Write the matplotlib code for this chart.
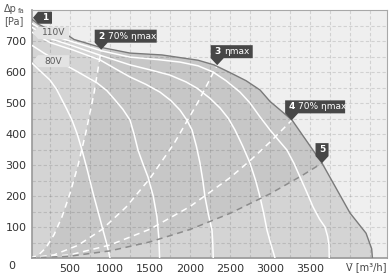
import matplotlib
matplotlib.use("Agg")
import matplotlib.pyplot as plt
import numpy as np
from matplotlib.patches import Polygon
from matplotlib.transforms import IdentityTransform

# Kennlinien (V in m3/h, p in Pa)
v_110 = [0, 100, 250, 475, 550, 875, 1250, 1650, 2100, 2300, 2500, 2700, 2875, 3000, 3275, 3650, 4000, 4200, 4270, 4280]
p_110 = [775, 755, 735, 718, 705, 680, 661, 655, 638, 623, 598, 572, 542, 505, 445, 306, 145, 80, 30, 0]

v_e = [0, 250, 537, 900, 1250, 1600, 1875, 2100, 2287, 2450, 2625, 2750, 2875, 3000, 3100, 3212,
       3300, 3375, 3460, 3537, 3620, 3687, 3720, 3737, 3740]
p_e = [761, 720, 697, 668, 648, 640, 632, 620, 600, 572, 535, 500, 455, 413, 382, 348,
       305, 261, 212, 165, 125, 100, 70, 42, 0]

v_d = [0, 250, 537, 900, 1250, 1500, 1750, 1950, 2087, 2250, 2375, 2480, 2562, 2660, 2750, 2820,
       2875, 2920, 2962, 3010, 3062]
p_d = [748, 708, 684, 652, 623, 607, 590, 568, 548, 515, 484, 450, 413, 360, 306, 250,
       197, 145, 90, 45, 0]

v_c = [0, 250, 537, 875, 1050, 1250, 1450, 1625, 1760, 1875, 1960, 2025, 2080, 2125, 2160, 2187,
       2230, 2275, 2285, 2290]
p_c = [732, 695, 671, 639, 613, 584, 560, 535, 508, 477, 445, 413, 360, 306, 250, 197,
       140, 90, 45, 0]

v_b = [0, 180, 375, 600, 837, 960, 1062, 1160, 1250, 1300, 1350, 1410, 1475, 1540, 1587, 1610, 1620]
p_b = [690, 660, 632, 600, 565, 540, 510, 480, 445, 400, 348, 305, 261, 200, 132, 65, 0]

v_80 = [0, 120, 250, 330, 400, 460, 525, 590, 650, 720, 787, 850, 912, 960, 1000]
p_80 = [635, 605, 574, 545, 510, 480, 445, 400, 348, 280, 210, 150, 90, 45, 0]

# Anlagenkennlinien 2..5
v_2 = [0, 100, 200, 300, 400, 500, 600, 700, 800, 890]
p_2 = [0, 8, 33, 75, 133, 208, 299, 407, 531, 672]
v_3 = [0, 300, 600, 900, 1200, 1500, 1800, 2100, 2340]
p_3 = [0, 10, 41, 92, 164, 257, 369, 503, 622]
v_4 = [0, 500, 1000, 1500, 2000, 2500, 2750, 3000, 3270]
p_4 = [0, 10, 42, 93, 166, 259, 314, 374, 444]
v_5 = [0, 500, 1000, 1500, 2000, 2500, 3000, 3400, 3650]
p_5 = [0, 6, 23, 52, 92, 144, 207, 266, 306]

x_ticks = [500, 1000, 1500, 2000, 2500, 3000, 3500]
y_ticks = [100, 200, 300, 400, 500, 600, 700]

fig = plt.figure(figsize=(3.92, 2.77), dpi=100)
ax = fig.add_axes([32 / 392, 19 / 277, 355 / 392, 248 / 277])
ax.set_facecolor("#efefef")
ax.set_xlim(25, 4462)
ax.set_ylim(0, 800)

# Flaechen
ax.fill_between(v_110, p_110, 0, color="#d4d4d4", lw=0, zorder=1)
v110 = np.array(v_110)
p110 = np.array(p_110)
sel = (v110 > v_2[-1]) & (v110 < v_5[-1])
dv = np.concatenate([v_2, v110[sel], [v_5[-1]], v_5[::-1]])
dp = np.concatenate([p_2, p110[sel], [p_5[-1]], p_5[::-1]])
ax.fill(dv, dp, color="#c7c7c7", lw=0, zorder=1)

# Gitter
ax.set_xticks(x_ticks)
ax.set_yticks(y_ticks)
ax.set_xticks(np.arange(250, 4500, 250), minor=True)
ax.set_yticks(np.arange(50, 800, 50), minor=True)
ax.set_axisbelow("line")
ax.grid(True, which="both", color="black", alpha=0.12, lw=0.8, ls=(0, (3, 2)))
ax.tick_params(which="both", length=0, labelsize=8, colors="#333333")
ax.tick_params(axis="x", pad=4)
ax.tick_params(axis="y", pad=4)
for lab in ax.get_xticklabels() + ax.get_yticklabels():
    lab.set_family(["Liberation Sans Narrow", "DejaVu Sans"])
for s in ax.spines.values():
    s.set_color("#a8a8a8")
ax.spines["left"].set_color("#999999")
ax.spines["bottom"].set_color("#999999")
ax.spines["left"].set_linewidth(1.2)
ax.spines["bottom"].set_linewidth(1.2)

# Kurven
for v, p in [(v_e, p_e), (v_d, p_d), (v_c, p_c), (v_b, p_b), (v_80, p_80)]:
    ax.plot(v, p, color="white", lw=1.1, zorder=3, solid_joinstyle="round")
for v, p in [(v_2, p_2), (v_3, p_3), (v_4, p_4)]:
    ax.plot(v, p, color="white", lw=1.1, ls=(0, (4, 3)), zorder=3)
ax.plot(v_5, p_5, color="#8c8c8c", lw=1.1, ls=(0, (4, 3)), zorder=3)
ax.plot(v_110, p_110, color="#7a7a7a", lw=1.0, zorder=3, solid_joinstyle="round")

idt = IdentityTransform()


def tag_down(v, p, num, label, width):
    tx, ty = ax.transData.transform((v, p))
    left = tx - 6.5
    b = ty + 7
    h = 13
    pts = [(tx, ty), (left + 13, b), (left + width, b), (left + width, b + h), (left, b + h), (left, b)]
    ax.add_patch(Polygon(pts, closed=True, transform=idt, facecolor="#474747",
                         edgecolor="none", zorder=6, clip_on=False))
    ax.text(left + 6.5, b + h / 2, num, transform=idt, ha="center", va="center",
            color="white", fontsize=6.5, fontweight="bold", zorder=7)
    if label:
        ax.text(left + 13, b + h / 2, label, transform=idt, ha="left", va="center",
                color="white", fontsize=6.5, zorder=7)


def tag_left(v, p, text, width, fc, tc, bold):
    tx, ty = ax.transData.transform((v, p))
    tx = tx + 3
    h = 12
    pts = [(tx, ty), (tx + 5, ty + h / 2), (tx + width, ty + h / 2), (tx + width, ty - h / 2), (tx + 5, ty - h / 2)]
    ax.add_patch(Polygon(pts, closed=True, transform=idt, facecolor=fc,
                         edgecolor="none", zorder=6, clip_on=False))
    ax.text(tx + 5 + (width - 5) / 2, ty, text, transform=idt, ha="center", va="center",
            color=tc, fontsize=6.5, fontweight="bold" if bold else "normal", zorder=7)


tag_down(v_2[-1], p_2[-1], "2", "70% ηmax", 62)
tag_down(v_3[-1], p_3[-1], "3", "ηmax", 42)
tag_down(v_4[-1], p_4[-1], "4", "70% ηmax", 60)
tag_down(v_5[-1], p_5[-1], "5", "", 13)
tag_left(v_110[0], p_110[0], "1", 19, "#474747", "white", True)
tag_left(0, 726, "110V", 36, "#e3e3e3", "#5a5a5a", False)
tag_left(v_80[0], p_80[0], "80V", 36, "#e3e3e3", "#5a5a5a", False)

# Achsbeschriftungen
fig.text(4 / 392, 1 - 9 / 277, "Δp", fontsize=7, color="#555555", va="center", ha="left")
fig.text(18 / 392, 1 - 11 / 277, "fa", fontsize=5, color="#555555", va="center", ha="left")
fig.text(4 / 392, 1 - 21 / 277, "[Pa]", fontsize=7, color="#555555", va="center", ha="left")
fig.text(387 / 392, 1 - 267 / 277, "V\u0307 [m³/h]", fontsize=7, color="#444444", va="center", ha="right")
fig.text(12 / 392, 1 - 266 / 277, "0", fontsize=8, color="#333333", va="center", ha="center",
         family=["Liberation Sans Narrow", "DejaVu Sans"])

fig.savefig("out.png", dpi=100)
